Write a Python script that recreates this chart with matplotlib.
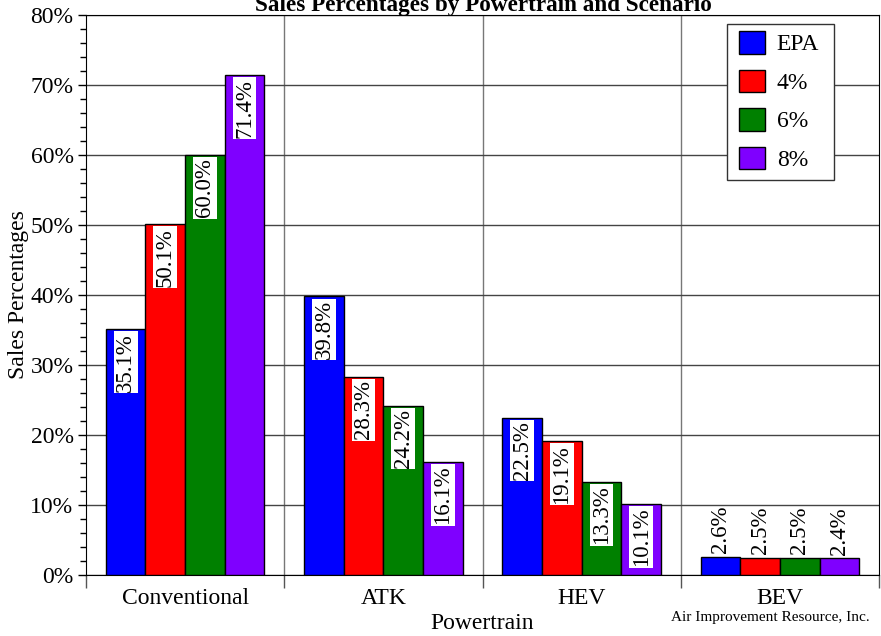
import numpy as np
import matplotlib
matplotlib.use("Agg")
import matplotlib.pyplot as plt
from matplotlib.patches import Rectangle

plt.rcParams['font.family'] = ['Liberation Serif', 'DejaVu Serif']

powertrains = ["Conventional", "ATK", "HEV", "BEV"]
scenarios = ["EPA", "4%", "6%", "8%"]
epa = [35.1, 39.8, 22.5, 2.6]
pct4 = [50.1, 28.3, 19.1, 2.5]
pct6 = [60.0, 24.2, 13.3, 2.5]
pct8 = [71.4, 16.1, 10.1, 2.4]
colors = ["#0000ff", "#ff0000", "#008000", "#7f00ff"]

fig = plt.figure(figsize=(8.81, 6.36), dpi=100)
ax = fig.add_axes([86/881, 61/636, 793/881, 560/636])

x = np.arange(len(powertrains))
w = 0.2
for i, (vals, c, name) in enumerate(zip([epa, pct4, pct6, pct8], colors, scenarios)):
    pos = x + (i - 1.5) * w
    ax.bar(pos, vals, w, color=c, edgecolor="black", linewidth=1, label=name, zorder=3)
    for p, v in zip(pos, vals):
        txt = f"{v:.1f}%"
        if v > 9:
            ax.text(p, v - 0.5, txt, rotation=90, ha="center", va="top", fontsize=16.5,
                    bbox=dict(facecolor="white", edgecolor="none", pad=1), zorder=4)
        else:
            ax.text(p, v + 0.5, txt, rotation=90, ha="center", va="bottom", fontsize=16.5, zorder=4)

ax.set_xlim(-0.5, 3.5)
ax.set_ylim(0, 80)
ax.set_yticks(np.arange(0, 81, 10))
ax.set_yticklabels([f"{t}%" for t in range(0, 81, 10)], fontsize=17)
ax.set_yticks(np.arange(0, 81, 2), minor=True)
ax.tick_params(axis="y", which="major", length=6, width=1, pad=3)
ax.tick_params(axis="y", which="minor", length=4, width=1)

ax.set_xticks(x)
ax.set_xticklabels(powertrains, fontsize=17)
ax.set_xticks(np.arange(-0.5, 3.6, 1), minor=True)
ax.tick_params(axis="x", which="major", length=0, pad=9)
ax.tick_params(axis="x", which="minor", length=9, width=1, color="#555555")

ax.yaxis.grid(True, which="major", color="#444444", linewidth=1, zorder=0)
for b in [0.5, 1.5, 2.5]:
    ax.axvline(b, color="#777777", linewidth=1, zorder=0)
ax.set_axisbelow(True)

ax.set_xlabel("Powertrain", fontsize=17, labelpad=3)
ax.set_ylabel("Sales Percentages", fontsize=17, labelpad=1)

# legend without its own frame, frame drawn separately for wider side padding
leg = ax.legend(loc="upper left", bbox_to_anchor=((739 - 86) / 793, 1 - 16/560), fontsize=17,
                frameon=False, handlelength=1.1, handleheight=1.1,
                labelspacing=0.6, borderpad=0, handletextpad=0.5, borderaxespad=0)
leg.set_zorder(6)
for h in leg.legend_handles:
    h.set_edgecolor("black")
ax.add_patch(Rectangle(((727 - 86) / 793, 1 - 165/560), 107/793, 156/560, transform=ax.transAxes,
                       facecolor="white", edgecolor="#333333", linewidth=1, zorder=5))

fig.text(483/881, 1 - 11/636, "Sales Percentages by Powertrain and Scenario", ha="center",
         va="baseline", fontsize=16.7, fontweight="bold")
fig.text(770/881, 18/636, "Air Improvement Resource, Inc.", ha="center", va="center", fontsize=11)

fig.savefig("out.png", dpi=100)
